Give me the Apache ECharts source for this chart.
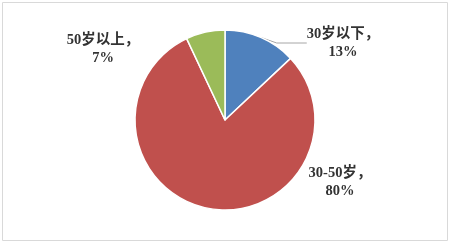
<!DOCTYPE html>
<html><head><meta charset="utf-8">
<script src="https://cdn.jsdelivr.net/npm/echarts@6/dist/echarts.min.js"></script>
<style>html,body{margin:0;padding:0;background:#fff}#c{width:450px;height:243px}</style>
</head><body><div id="c"></div>
<script>
const categories = ['30岁以下', '30-50岁', '50岁以上'];
const values = [13, 80, 7];
const colors = ['#4F81BD', '#C0504D', '#9BBB59'];
const labelPos = [[343, 43], [340, 182], [103, 49]];

const chart = echarts.init(document.getElementById('c'));
chart.setOption({
  animation: false,
  graphic: [{
    type: 'rect', shape: {x: 2.5, y: 2.5, width: 445, height: 238},
    style: {fill: 'none', stroke: '#d9d9d9', lineWidth: 1}
  }],
  series: [{
    type: 'pie',
    center: [225, 120],
    radius: 90,
    startAngle: 90,
    clockwise: true,
    itemStyle: {borderColor: '#fff', borderWidth: 1.5},
    label: {
      show: true,
      formatter: p => p.name + '，\n' + p.value + '%',
      fontFamily: 'Liberation Serif, Noto Sans CJK SC',
      fontSize: 14.5,
      fontWeight: 'bold',
      lineHeight: 18,
      color: '#333333',
      align: 'center'
    },
    labelLine: {show: false},
    labelLayout: p => ({
      x: labelPos[p.dataIndex][0], y: labelPos[p.dataIndex][1],
      align: 'center', verticalAlign: 'middle'
    }),
    data: categories.map((n, i) => ({
      name: n, value: values[i], itemStyle: {color: colors[i]},
      labelLine: i === 0 ? {show: true, lineStyle: {color: '#a6a6a6', width: 1}, length: 6, length2: 30} : {show: false}
    }))
  }]
});
</script></body></html>
